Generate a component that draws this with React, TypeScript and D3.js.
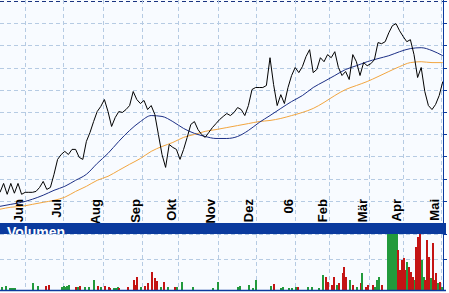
import React from 'react';
import * as d3 from 'd3';

// month grid (trading-day index of month start) and labels
const monthLabels = ['Jun', 'Jul', 'Aug', 'Sep', 'Okt', 'Nov', 'Dez', '06', 'Feb', 'Mär', 'Apr', 'Mai'];
const monthStartDay = [14, 35, 57, 79, 99, 121, 142, 164, 183, 205, 224, 245];

// price ticks (grid)
const priceTicks = [11, 12, 13, 14, 15, 16, 17, 18, 19, 20];

// closing price, one value every 2 trading days
const priceStep = 2;
const price = [
  11.39, 11.79, 11.30, 11.79, 11.35, 11.79, 11.30, 11.39, 11.39, 11.39,
  11.43, 11.61, 11.88, 11.52, 11.61, 12.20, 12.87, 13.09, 13.23, 13.09,
  13.32, 13.32, 12.96, 12.87, 13.68, 14.08, 14.57, 15.02, 15.25, 15.56,
  15.02, 14.35, 14.75, 15.02, 14.98, 15.11, 15.29, 15.92, 15.56, 15.38,
  15.52, 15.11, 15.29, 14.89, 13.99, 13.09, 12.51, 13.54, 13.41, 13.32,
  12.87, 13.32, 13.86, 14.44, 14.57, 14.21, 13.99, 13.86, 14.08, 14.30,
  14.48, 14.66, 14.80, 14.93, 14.84, 14.98, 15.20, 15.11, 14.84, 15.29,
  16.01, 16.10, 16.10, 16.10, 16.19, 17.44, 16.23, 15.29, 15.78, 15.38,
  16.10, 16.64, 17.00, 16.77, 17.04, 17.49, 17.80, 16.77, 16.91, 17.44,
  17.26, 17.58, 17.44, 17.71, 17.00, 16.64, 16.82, 16.46, 17.58, 17.26,
  16.64, 17.22, 17.08, 17.17, 17.35, 18.12, 18.07, 18.16, 18.56, 18.88,
  18.97, 18.65, 18.39, 18.16, 18.25, 17.58, 16.55, 17.00, 15.92, 15.29,
  15.11, 15.34, 15.74, 16.37,
];

// moving averages, one value every 6 trading days
const maStep = 6;
const maShort = [
  10.76, 10.85, 10.94, 11.08, 11.26, 11.48, 11.66, 11.93, 12.20, 12.69,
  13.14, 13.68, 14.17, 14.57, 14.84, 14.80, 14.57, 14.26, 14.04, 13.90,
  13.81, 13.81, 13.90, 14.17, 14.53, 14.84, 15.16, 15.47, 15.74, 16.10,
  16.37, 16.64, 16.91, 17.08, 17.26, 17.40, 17.53, 17.71, 17.85, 17.89,
  17.76, 17.53,
];
const maLong = [
  10.63, 10.72, 10.76, 10.85, 10.94, 11.03, 11.17, 11.43, 11.66, 11.93,
  12.11, 12.38, 12.65, 12.91, 13.23, 13.45, 13.63, 13.86, 13.99, 14.13,
  14.21, 14.30, 14.39, 14.48, 14.57, 14.62, 14.71, 14.84, 14.98, 15.16,
  15.43, 15.74, 16.01, 16.19, 16.37, 16.59, 16.82, 17.04, 17.22, 17.26,
  17.22, 17.22,
];

// volume (trading day, amount, direction)
const volDay = [
  1, 3, 5, 6, 7, 8, 18, 21, 25, 27, 34, 35, 36, 37, 38, 42, 43, 44, 47, 49,
  52, 54, 56, 58, 60, 61, 63, 64, 65, 66, 71, 74, 75, 76, 78, 80, 82, 84, 86, 87,
  89, 91, 93, 97, 98, 101, 107, 118, 121, 132, 133, 138, 140, 142, 150, 152, 156, 157, 160, 162,
  164, 165, 171, 173, 177, 179, 181, 182, 184, 185, 187, 188, 190, 191, 192, 194, 196, 198, 200, 201,
  203, 204, 207, 208, 209, 210, 212, 215, 216, 217, 218, 219, 220, 221, 222, 223, 224, 225, 226, 227,
  228, 229, 230, 231, 232, 233, 234, 235, 236, 237, 238, 239, 240, 241, 242, 243, 244, 245,
];
const volAmount = [
  3, 4, 2, 2, 2, 2, 7, 4, 4, 5, 3, 4, 3, 4, 5, 3, 3, 4, 3, 3,
  10, 4, 3, 4, 3, 2, 2, 2, 3, 2, 3, 10, 5, 13, 3, 4, 7, 18, 12, 9,
  3, 8, 3, 3, 3, 8, 3, 2, 8, 3, 4, 5, 2, 10, 4, 6, 2, 3, 2, 2,
  3, 3, 3, 3, 2, 15, 13, 8, 5, 13, 5, 7, 17, 23, 13, 10, 5, 3, 7, 17,
  3, 5, 5, 3, 10, 13, 5, 58, 58, 58, 58, 58, 58, 40, 20, 30, 32, 20, 28, 23,
  18, 13, 10, 43, 53, 57, 30, 13, 10, 50, 33, 12, 47, 10, 17, 7, 8, 3,
];
const volUp = [
  1, 1, 1, 1, 1, 1, 1, 1, 0, 0, 1, 1, 1, 1, 1, 0, 1, 0, 1, 1,
  1, 0, 1, 0, 0, 0, 1, 1, 1, 0, 0, 0, 0, 0, 1, 0, 0, 0, 0, 0,
  1, 0, 1, 0, 1, 1, 1, 1, 1, 1, 1, 1, 1, 1, 1, 0, 1, 1, 1, 1,
  1, 0, 1, 1, 1, 1, 0, 0, 0, 0, 1, 0, 0, 0, 0, 1, 0, 1, 0, 1,
  0, 0, 0, 1, 1, 1, 0, 1, 1, 1, 1, 1, 1, 0, 0, 0, 0, 0, 1, 0,
  0, 0, 1, 0, 0, 0, 1, 1, 0, 0, 0, 1, 0, 0, 0, 1, 0, 1,
];
const volTicks = [31, 56];

const GRID = '#b6cbe3';
const BLUE = '#0a3a9e';

export default function App() {
  const W = 449;
  const H = 293;
  const right = 443;
  const x = d3.scaleLinear().domain([0, 246]).range([0, 442.8]);
  const y = d3.scaleLinear().domain([10, 20]).range([223.25, 0.75]);
  const yv = d3.scaleLinear().domain([0, 56]).range([290, 234]);
  const snap = (v: number) => Math.round(v) + 0.5;

  const priceLine = d3
    .line<number>()
    .x((_, i) => x(i * priceStep))
    .y((d) => y(d));
  const maLine = d3
    .line<number>()
    .x((_, i) => x(i * maStep))
    .y((d) => y(d))
    .curve(d3.curveMonotoneX);

  const font = '"Liberation Sans", Arial, sans-serif';

  return (
    <svg
      width={W}
      height={H}
      viewBox={`0 0 ${W} ${H}`}
      style={{ position: 'absolute', left: 0, top: 0, background: '#ffffff' }}
    >
      <defs>
        <clipPath id="plot">
          <rect x={0} y={0} width={right} height={223} />
        </clipPath>
        <clipPath id="band">
          <rect x={0} y={223} width={W} height={11} />
        </clipPath>
      </defs>
      {/* backgrounds */}
      <rect x={0} y={0} width={right} height={223} fill="#f8fbff" />
      <rect x={0} y={234} width={right} height={56} fill="#f8fbff" />

      {/* price grid */}
      {priceTicks.map((t) => (
        <line
          key={'h' + t}
          x1={0}
          x2={right}
          y1={snap(y(t))}
          y2={snap(y(t))}
          stroke={t === 20 ? '#1a3480' : GRID}
          strokeDasharray="4,3"
        />
      ))}
      {monthStartDay.map((d) => (
        <line
          key={'v' + d}
          x1={snap(x(d))}
          x2={snap(x(d))}
          y1={0}
          y2={223}
          stroke={GRID}
          strokeDasharray="4,3"
        />
      ))}
      {/* volume grid */}
      {volTicks.map((t) => (
        <line
          key={'vh' + t}
          x1={0}
          x2={right}
          y1={snap(yv(t))}
          y2={snap(yv(t))}
          stroke={GRID}
          strokeDasharray="4,3"
        />
      ))}
      {monthStartDay.map((d) => (
        <line
          key={'vv' + d}
          x1={snap(x(d))}
          x2={snap(x(d))}
          y1={234}
          y2={290}
          stroke={GRID}
          strokeDasharray="4,3"
        />
      ))}

      {/* moving averages and price */}
      <g clipPath="url(#plot)" fill="none">
        <path d={maLine(maLong) || ''} stroke="#f2a640" strokeWidth={1} />
        <path d={maLine(maShort) || ''} stroke="#1c2f86" strokeWidth={1} />
        <path d={priceLine(price) || ''} stroke="#000000" strokeWidth={1} />
      </g>

      {/* month labels */}
      {monthStartDay.map((d, i) => {
        const lx = x(d) - 2.5;
        return (
          <text
            key={'l' + d}
            transform={`translate(${lx},199) rotate(-90)`}
            textAnchor="end"
            fontFamily={font}
            fontWeight="bold"
            fontSize={13}
            fill="#000"
          >
            {monthLabels[i]}
          </text>
        );
      })}

      {/* volume bars */}
      {volDay.map((d, i) => (
        <rect
          key={'b' + d}
          x={Math.floor(x(d))}
          y={yv(volAmount[i])}
          width={2}
          height={yv(0) - yv(volAmount[i])}
          fill={volUp[i] ? '#229a3c' : '#c41414'}
        />
      ))}

      {/* volume band */}
      <rect x={0} y={223} width={446} height={11} fill={BLUE} />
      <text
        x={7}
        y={237}
        clipPath="url(#band)"
        fontFamily={font}
        fontWeight="bold"
        fontSize={14}
        fill="#ffffff"
      >
        Volumen
      </text>

      {/* right axis */}
      <line x1={right + 0.5} x2={right + 0.5} y1={0} y2={291} stroke={BLUE} />
      {priceTicks.map((t) => (
        <line
          key={'rt' + t}
          x1={right}
          x2={right + 4}
          y1={snap(y(t))}
          y2={snap(y(t))}
          stroke={BLUE}
        />
      ))}
      {volTicks.map((t) => (
        <line
          key={'rv' + t}
          x1={right}
          x2={right + 4}
          y1={snap(yv(t))}
          y2={snap(yv(t))}
          stroke={BLUE}
        />
      ))}
      {/* bottom line */}
      <line x1={0} x2={446} y1={290.5} y2={290.5} stroke={BLUE} strokeWidth={1.5} />
    </svg>
  );
}
